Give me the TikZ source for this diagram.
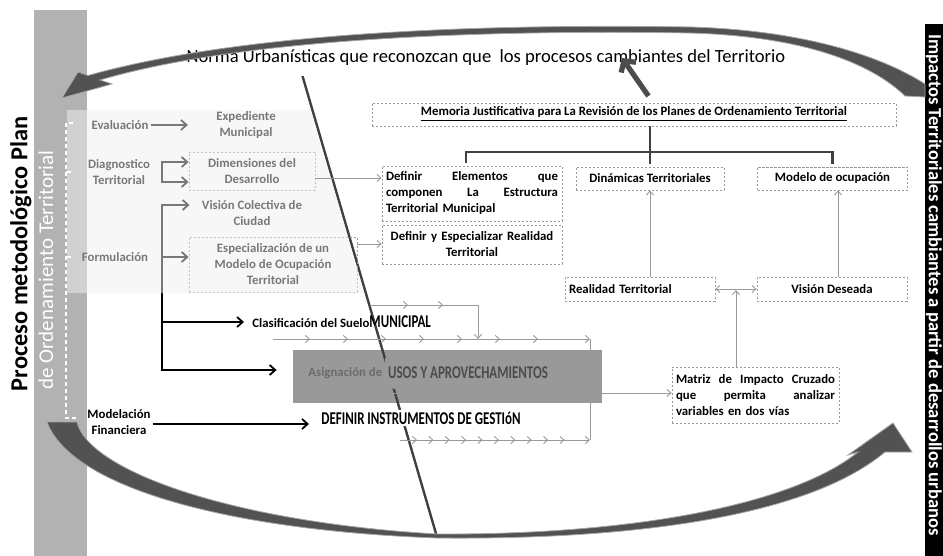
\documentclass[tikz,border=0pt]{standalone}
\usepackage{fontspec}
\setmainfont{Carlito}
\newfontfamily\narrowfont[FakeStretch=0.72]{Carlito}
\usetikzlibrary{arrows.meta,decorations.markings}

\tikzset{
  lbl/.style={font=\fontsize{6.4}{8}\selectfont\bfseries, align=center, inner sep=1pt},
  dotbox/.style={lbl, draw=black!40, dash pattern=on 1.2pt off 0.8pt, line width=0.4pt, inner sep=2pt},
  capslbl/.style={font=\narrowfont\fontsize{9}{10}\selectfont\bfseries, inner sep=1pt},
  darrow/.style={line width=0.9pt, -{Straight Barb[length=2.8pt,width=5pt]}},
  garrow/.style={draw=black!40, line width=0.45pt, -{Straight Barb[length=2pt,width=3.6pt]}},
  flowline/.style={garrow, postaction={decorate}, decoration={markings,
      mark=between positions #1 with {\arrow[black!40]{Straight Barb[length=2pt,width=3.6pt]}}}},
  tree/.style={draw=black!75, line width=1.3pt},
  ribbon/.style={fill=black!68, draw=black!35, line width=0.4pt}
}

\begin{document}
\begin{tikzpicture}[x=0.5pt,y=-0.5pt]

	\useasboundingbox (0,0) rectangle (943,556);
	\fill[black!30] (34,10) rectangle (87,556);
	\fill[black] (925,24) rectangle (943,556);

	\node[fill=black!40, minimum width=154.5pt, minimum height=26.5pt, inner sep=0pt] (asigbg) at (447.5,376.5) {};

	\coordinate (diagtop) at (292,40);
	\coordinate (diagbot) at (437,537);
	\draw[black!75, line width=1.2pt] (diagtop) -- (diagbot);

	\coordinate (fA1) at (370,305);
	\coordinate (fA2) at (478,305);
	\coordinate (fA3) at (478,339);
	\coordinate (fB1) at (273,339);
	\coordinate (fB2) at (590,339);
	\coordinate (fC1) at (340,393);
	\coordinate (fC2) at (590,393);
	\coordinate (fD1) at (400,440);
	\coordinate (fD2) at (590,440);
	\draw[flowline={19pt and 37pt step 17.5pt}] (fA1) -- (fA2) -- (fA3);
	\draw[flowline={18.5pt and 133pt step 19pt}] (fB1) -- (fB2);
	\draw[flowline={16.5pt and 113pt step 16pt}] (fC1) -- (fC2);
	\draw[flowline={8.5pt and 84pt step 8.2pt}] (fD1) -- (fD2);
	\draw[draw=black!40, line width=0.45pt] (fB2) -- (fD2);

	\node[lbl] (ev)   at (120,125) {Evaluación};
	\node[lbl] (exp)  at (246,125) {Expediente\\Municipal};
	\node[lbl] (diag) at (119,172) {Diagnostico\\Territorial};
	\node[dotbox, minimum width=63pt, minimum height=19pt] (dim) at (252,171) {Dimensiones del\\Desarrollo};
	\node[lbl] (vis)  at (252,213) {Visión Colectiva de\\Ciudad};
	\node[lbl] (form) at (115,257) {Formulación};
	\node[dotbox, minimum width=84pt, minimum height=27.5pt] (esp) at (273,264.5) {Especialización de un\\Modelo de Ocupación\\Territorial};
	\node[lbl] (mod)  at (119,422) {Modelación\\Financiera};

	\node[lbl, anchor=west] (clas) at (250,322) {Clasificación del Suelo{\narrowfont\fontsize{9}{10}\selectfont MUNICIPAL}};
	\node[dotbox, capslbl, text=black!70, fill=black!40, minimum width=83pt, minimum height=15pt] (usos) at (468,373) {USOS Y APROVECHAMIENTOS};
	\node[lbl, text=black!58, anchor=east] (asigtxt) at (usos.west) {Asignación de};
	\node[capslbl, fill=white] (definir) at (421,418) {DEFINIR INSTRUMENTOS DE GESTIóN};

	\coordinate (dg) at (162,172);
	\coordinate (fm) at (162,257);
	\draw[darrow, shorten >=13pt] (ev) -- (exp);
	\draw[darrow] (dg) |- (dim.west |- 0,162);
	\draw[darrow] (dg) |- (dim.west |- 0,182);
	\draw[darrow, shorten >=5pt] (fm) |- (vis.west |- 0,205);
	\draw[darrow] (fm) -- (esp.west |- fm);
	\draw[darrow, shorten >=3pt] (fm) |- (clas.west);
	\draw[darrow, shorten >=8pt] (fm) |- (asigbg.west |- 0,370);
	\draw[darrow, shorten >=5pt] (mod.east |- 0,424) -- (definir.west |- 0,424);

	\fill[black!6, opacity=0.5] (67,110) -- (310.9,110) -- (364.3,293) -- (67,293) -- cycle;

	\node[dotbox, minimum width=262pt, minimum height=11.5pt] (mem) at (634,114.5) {\underline{Memoria Justificativa para La Revisión de los Planes de Ordenamiento Territorial}};
	\node[dotbox, text width=86pt, align=left, minimum height=27.5pt] (def1) at (472,193.5) {Definir\hfill Elementos\hfill que\\componen\hfill La\hfill Estructura\\Territorial Municipal};
	\node[dotbox, text width=86pt, minimum height=19.5pt] (def2) at (472,244.5) {Definir y Especializar Realidad\\Territorial};
	\node[dotbox, minimum width=74pt, minimum height=11.5pt] (din) at (650,178.5) {Dinámicas Territoriales};
	\node[dotbox, minimum width=75pt, minimum height=11.5pt] (modocc) at (832.5,178.5) {Modelo de ocupación};
	\node[dotbox, text width=71pt, align=left, minimum height=12pt] (real) at (640,289) {Realidad Territorial};
	\node[dotbox, minimum width=75pt, minimum height=12pt] (vdes) at (832,289) {Visión Deseada};
	\node[dotbox, text width=79.5pt, align=left, minimum height=28pt] (mat) at (755.5,395) {Matriz\hfill de\hfill Impacto\hfill Cruzado\\que\hfill permita\hfill analizar\\variables en dos vías};

	\draw[tree, shorten >=1.5pt] (mem.south -| din.north) -- (din.north);
	\draw[tree, shorten <=1.5pt, shorten >=1.5pt] (def1.north -| 466,0) |- (modocc.north |- 0,152) -- (modocc.north);

	\coordinate (rvjoin) at (736,290);
	\draw[garrow] (dim.east |- 0,178) -- (def1.west |- 0,178);
	\draw[garrow] (esp.east |- 0,244) -- (def2.west |- 0,244);
	\draw[garrow] (real.north -| din.south) -- (din.south);
	\draw[garrow] (vdes.north -| 838,0) -- (modocc.south -| 838,0);
	\draw[garrow, {Straight Barb[length=2pt,width=3.6pt]}-{Straight Barb[length=2pt,width=3.6pt]}] (real.east) -- (vdes.west);
	\draw[garrow] (mat.north -| rvjoin) -- (rvjoin);
	\draw[garrow] (fC2) -- (mat.west |- fC2);

	\node[font=\fontsize{9.3}{11}\selectfont, fill=white, inner xsep=1pt, inner ysep=5pt] (norma) at (486,58) {Norma Urbanísticas que reconozcan que~ los procesos cambiantes del Territorio};

	\path[ribbon] (925,84) .. controls (880,55) and (800,30) .. (690,27)
		.. controls (500,24) and (250,30) .. (88,75.5)
		-- (78,72) -- (62,98) -- (112,84) -- (100,80)
		.. controls (250,36) and (500,30) .. (690,33)
		.. controls (800,36) and (870,62) .. (905,96) -- (925,97) -- cycle;
	\path[ribbon] (47,422) -- (77,422) .. controls (88,470) and (230,522) .. (437,534)
		.. controls (640,535) and (795,503) .. (858,452) -- (848,455) -- (893,423) -- (912,452) -- (885,452)
		.. controls (810,515) and (640,540) .. (437,538)
		.. controls (220,530) and (70,485) .. (47,422) -- cycle;

	\coordinate (normatip) at (622,58);
	\draw[line width=2.6pt, black!70, shorten <=4pt, -{Straight Barb[length=4pt,width=9pt]}] (mem.north -| 653,0) -- (normatip);

	\node[rotate=90, font=\fontsize{12.2}{14}\selectfont\bfseries] (proc) at (21,254) {Proceso metodológico Plan};
	\node[rotate=90, text=white, font=\fontsize{10.5}{12}\selectfont] (orden) at (46,270) {de Ordenamiento Territorial};
	\node[rotate=-90, text=white, font=\fontsize{9.3}{11}\selectfont\bfseries] (impact) at (934,285) {Impactos Territoriales cambiantes a partir de desarrollos urbanos};

	\draw[white, line width=0.6pt, dash pattern=on 2pt off 1.5pt] (73,123) -- (66,123) -- (66,418) -- (76,418);
	\draw[white, line width=0.6pt] (66,172) -- (71,172) (66,257) -- (71,257);

	\end{tikzpicture}
\end{document}
